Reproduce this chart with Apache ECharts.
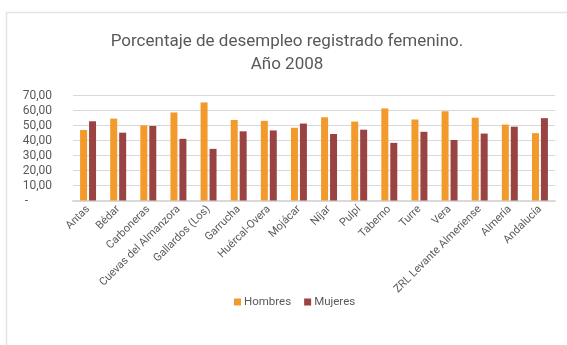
<!DOCTYPE html>
<html>
<head>
<meta charset="utf-8">
<script src="https://cdn.jsdelivr.net/npm/echarts@6/dist/echarts.min.js"></script>
<style>
  html, body { margin: 0; padding: 0; background: #ffffff; }
  #chart { width: 567px; height: 345px; }
</style>
</head>
<body>
<div id="chart"></div>
<script>
// Municipios y ámbitos comparados
const categories = [
  'Antas', 'Bédar', 'Carboneras', 'Cuevas del Almanzora', 'Gallardos (Los)',
  'Garrucha', 'Huércal-Overa', 'Mojácar', 'Níjar', 'Pulpí', 'Taberno',
  'Turre', 'Vera', 'ZRL Levante Almeriense', 'Almería', 'Andalucía'
];

// Porcentaje de desempleo registrado por sexo (2008)
const hombres = [47.1, 54.7, 50.2, 58.8, 65.5, 53.8, 53.2, 48.6, 55.6, 52.7, 61.5, 54.1, 59.6, 55.3, 50.7, 45.0];
const mujeres = [52.9, 45.3, 49.8, 41.2, 34.5, 46.2, 46.8, 51.4, 44.4, 47.3, 38.5, 45.9, 40.4, 44.7, 49.3, 55.0];

const yTicks = [0, 10, 20, 30, 40, 50, 60, 70];

const FONT = "Roboto, sans-serif";
const GREY = '#595959';

const chart = echarts.init(document.getElementById('chart'), null, { renderer: 'canvas' });

chart.setOption({
  animation: false,
  backgroundColor: '#ffffff',
  title: {
    text: 'Porcentaje de desempleo registrado femenino.\nAño 2008',
    left: 282,
    top: 25,
    textAlign: 'center',
    textStyle: {
      fontFamily: FONT,
      fontWeight: 'normal',
      fontSize: 17,
      lineHeight: 23,
      color: GREY
    }
  },
  legend: {
    data: ['Hombres', 'Mujeres'],
    left: 229,
    top: 291,
    itemWidth: 7,
    itemHeight: 7,
    itemGap: 13,
    icon: 'rect',
    textStyle: { fontFamily: FONT, fontSize: 11.5, color: GREY, padding: [0, 0, 0, -2] }
  },
  grid: {
    left: 73,
    right: 12,
    top: 95.7,
    bottom: 144.5,
    containLabel: false
  },
  xAxis: {
    type: 'category',
    data: categories,
    axisTick: { show: false },
    axisLine: { show: true, lineStyle: { color: '#d9d9d9', width: 2 } },
    axisLabel: {
      rotate: 45,
      interval: 0,
      margin: 7,
      fontFamily: FONT,
      fontSize: 11,
      color: GREY
    }
  },
  yAxis: {
    type: 'value',
    min: yTicks[0],
    max: yTicks[yTicks.length - 1],
    interval: 10,
    axisLine: { show: false },
    axisTick: { show: false },
    splitLine: { lineStyle: { color: '#d9d9d9', width: 1 } },
    axisLabel: {
      margin: 21,
      fontFamily: FONT,
      fontSize: 12,
      color: GREY,
      formatter: function (v) {
        return v === 0 ? '-        ' : v.toFixed(2).replace('.', ',');
      }
    }
  },
  series: [
    {
      name: 'Hombres',
      type: 'bar',
      data: hombres,
      barWidth: 7,
      barGap: '28%',
      itemStyle: { color: '#F39A2C' }
    },
    {
      name: 'Mujeres',
      type: 'bar',
      data: mujeres,
      barWidth: 7,
      itemStyle: { color: '#9A4343' }
    }
  ],
  graphic: [
    {
      type: 'polyline',
      shape: { points: [[6.5, 345], [6.5, 12.5], [567, 12.5]] },
      style: { stroke: '#e3e3e3', lineWidth: 1.5, fill: null },
      silent: true
    }
  ]
});
</script>
</body>
</html>
